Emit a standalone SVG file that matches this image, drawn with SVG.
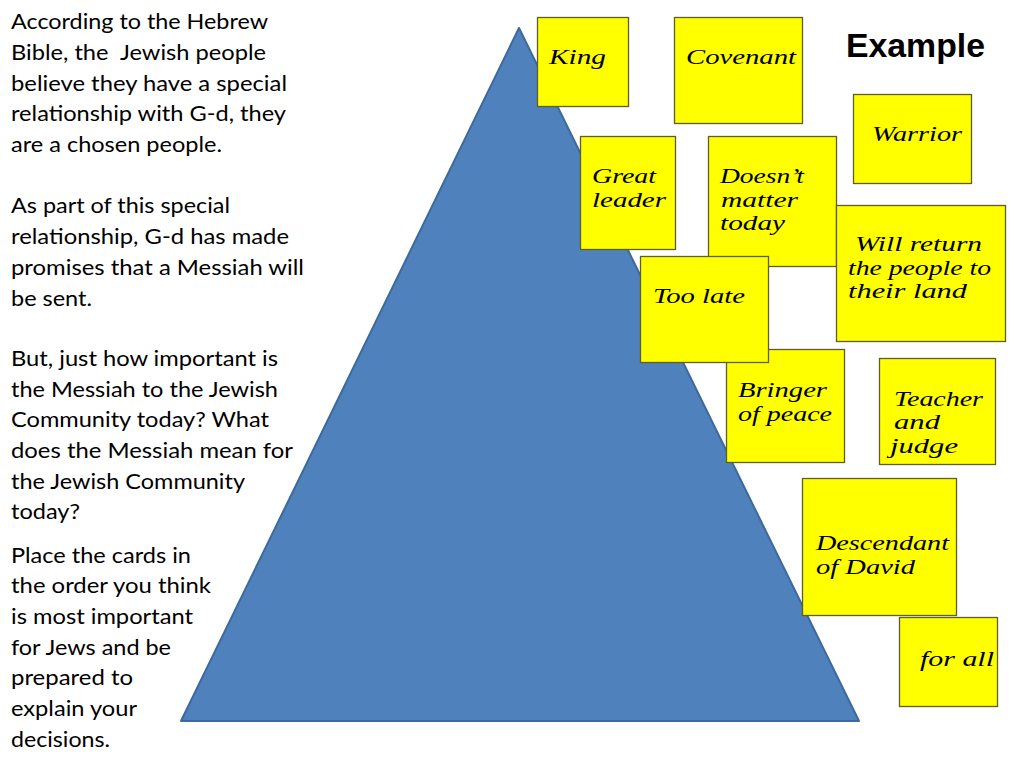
<svg xmlns="http://www.w3.org/2000/svg" width="1024" height="768" viewBox="0 0 1024 768">
<style>
.body{font-family:Lato,"Open Sans","Liberation Sans",sans-serif;font-size:21px;fill:#000}
.card{fill:#ffff00;stroke:#5e5e2a;stroke-width:1.3}
.ct{font-family:"Liberation Serif","DejaVu Serif",serif;font-style:italic;font-size:22px;fill:#000}
</style>
<rect width="1024" height="768" fill="#fff"/>
<g id="intro-text" class="body">
<text x="11" y="29" textLength="257" lengthAdjust="spacingAndGlyphs">According to the Hebrew</text>
<text x="11" y="60" textLength="255" lengthAdjust="spacingAndGlyphs" xml:space="preserve">Bible, the  Jewish people</text>
<text x="11" y="91" textLength="276" lengthAdjust="spacingAndGlyphs">believe they have a special</text>
<text x="11" y="121" textLength="275" lengthAdjust="spacingAndGlyphs">relationship with G-d, they</text>
<text x="11" y="152" textLength="211" lengthAdjust="spacingAndGlyphs">are a chosen people.</text>
<text x="11" y="213" textLength="219" lengthAdjust="spacingAndGlyphs">As part of this special</text>
<text x="11" y="244" textLength="278" lengthAdjust="spacingAndGlyphs">relationship, G-d has made</text>
<text x="11" y="275" textLength="293" lengthAdjust="spacingAndGlyphs">promises that a Messiah will</text>
<text x="11" y="306" textLength="81" lengthAdjust="spacingAndGlyphs">be sent.</text>
<text x="11" y="366" textLength="267" lengthAdjust="spacingAndGlyphs">But, just how important is</text>
<text x="11" y="397" textLength="267" lengthAdjust="spacingAndGlyphs">the Messiah to the Jewish</text>
<text x="11" y="427" textLength="258" lengthAdjust="spacingAndGlyphs">Community today? What</text>
<text x="11" y="458" textLength="282" lengthAdjust="spacingAndGlyphs">does the Messiah mean for</text>
<text x="11" y="489" textLength="234" lengthAdjust="spacingAndGlyphs">the Jewish Community</text>
<text x="11" y="519" textLength="69" lengthAdjust="spacingAndGlyphs">today?</text>
</g>
<g id="instructions" class="body">
<text x="11" y="563" textLength="180" lengthAdjust="spacingAndGlyphs">Place the cards in</text>
<text x="11" y="593" textLength="200" lengthAdjust="spacingAndGlyphs">the order you think</text>
<text x="11" y="624" textLength="182" lengthAdjust="spacingAndGlyphs">is most important</text>
<text x="11" y="655" textLength="160" lengthAdjust="spacingAndGlyphs">for Jews and be</text>
<text x="11" y="685" textLength="122" lengthAdjust="spacingAndGlyphs">prepared to</text>
<text x="11" y="716" textLength="126" lengthAdjust="spacingAndGlyphs">explain your</text>
<text x="11" y="747" textLength="99" lengthAdjust="spacingAndGlyphs">decisions.</text>
</g>
<g id="pyramid">
<polygon points="519,28 859,721 181,721" fill="#4f81bd" stroke="#3d6a9e" stroke-width="2" stroke-linejoin="round"/>
</g>
<g id="example-title">
<text x="846" y="57" font-family="'Liberation Sans',Arial,sans-serif" font-weight="bold" font-size="33" textLength="139" lengthAdjust="spacingAndGlyphs">Example</text>
</g>
<g id="card-king">
<rect class="card" x="537.5" y="17.5" width="91" height="89"/>
<text class="ct" x="549" y="64" textLength="57" lengthAdjust="spacingAndGlyphs">King</text>
</g>
<g id="card-covenant">
<rect class="card" x="674.5" y="17.5" width="128" height="106"/>
<text class="ct" x="686" y="64" textLength="110" lengthAdjust="spacingAndGlyphs">Covenant</text>
</g>
<g id="card-warrior">
<rect class="card" x="853.5" y="94.5" width="118" height="89"/>
<text class="ct" x="872" y="141" textLength="90" lengthAdjust="spacingAndGlyphs">Warrior</text>
</g>
<g id="card-great-leader">
<rect class="card" x="580.5" y="136.5" width="95" height="113"/>
<text class="ct" x="592" y="183" textLength="64" lengthAdjust="spacingAndGlyphs">Great</text>
<text class="ct" x="592" y="207" textLength="74" lengthAdjust="spacingAndGlyphs">leader</text>
</g>
<g id="card-doesnt-matter">
<rect class="card" x="708.5" y="136.5" width="128" height="130"/>
<text class="ct" x="720" y="183" textLength="84" lengthAdjust="spacingAndGlyphs">Doesn’t</text>
<text class="ct" x="721" y="207" textLength="77" lengthAdjust="spacingAndGlyphs">matter</text>
<text class="ct" x="720" y="230" textLength="65" lengthAdjust="spacingAndGlyphs">today</text>
</g>
<g id="card-will-return">
<rect class="card" x="836.5" y="205.5" width="169" height="136"/>
<text class="ct" x="855" y="251" textLength="127" lengthAdjust="spacingAndGlyphs">Will return</text>
<text class="ct" x="848" y="275" textLength="143" lengthAdjust="spacingAndGlyphs">the people to</text>
<text class="ct" x="848" y="298" textLength="119" lengthAdjust="spacingAndGlyphs">their land</text>
</g>
<g id="card-bringer-of-peace">
<rect class="card" x="726.5" y="349.5" width="118" height="113"/>
<text class="ct" x="738" y="397" textLength="89" lengthAdjust="spacingAndGlyphs">Bringer</text>
<text class="ct" x="738" y="421" textLength="94" lengthAdjust="spacingAndGlyphs">of peace</text>
</g>
<g id="card-too-late">
<rect class="card" x="640.5" y="256.5" width="128" height="106"/>
<text class="ct" x="653" y="303" textLength="92" lengthAdjust="spacingAndGlyphs">Too late</text>
</g>
<g id="card-teacher-and-judge">
<rect class="card" x="879.5" y="358.5" width="116" height="106"/>
<text class="ct" x="894" y="406" textLength="89" lengthAdjust="spacingAndGlyphs">Teacher</text>
<text class="ct" x="894" y="429" textLength="46" lengthAdjust="spacingAndGlyphs">and</text>
<text class="ct" x="890" y="453" textLength="68" lengthAdjust="spacingAndGlyphs">judge</text>
</g>
<g id="card-descendant-of-david">
<rect class="card" x="802.5" y="478.5" width="154" height="137"/>
<text class="ct" x="816" y="550" textLength="133" lengthAdjust="spacingAndGlyphs">Descendant</text>
<text class="ct" x="816" y="574" textLength="99" lengthAdjust="spacingAndGlyphs">of David</text>
</g>
<g id="card-for-all">
<rect class="card" x="899.5" y="617.5" width="98" height="89"/>
<text class="ct" x="920" y="666" textLength="74" lengthAdjust="spacingAndGlyphs">for all</text>
</g>
<g id="connectors"></g>
</svg>
